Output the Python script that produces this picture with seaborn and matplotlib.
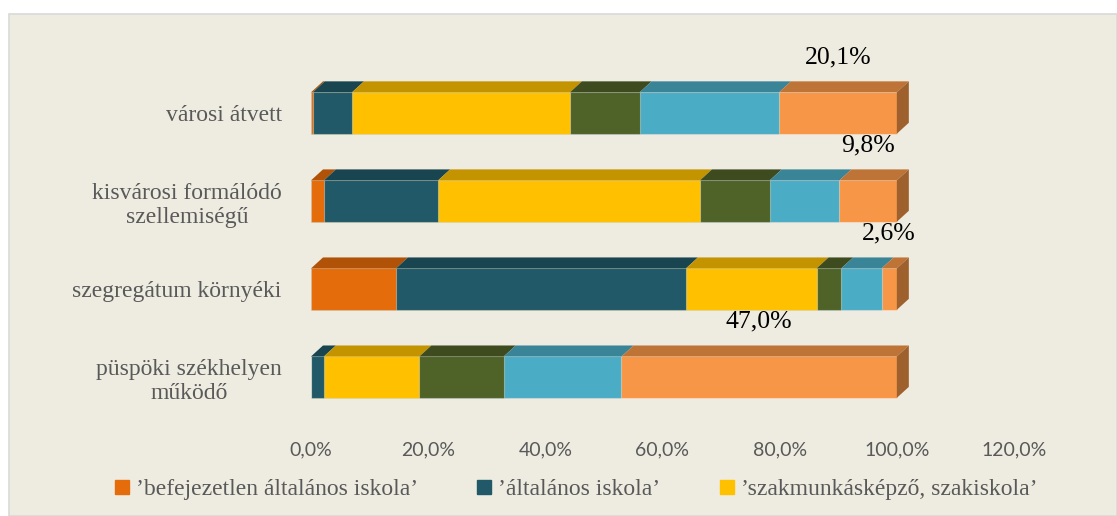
import numpy as np
import pandas as pd
import matplotlib
matplotlib.use("Agg")
import matplotlib.pyplot as plt
import matplotlib.colors as mcolors
from matplotlib.patches import Polygon, Rectangle
from matplotlib.lines import Line2D
from matplotlib.transforms import ScaledTranslation
import seaborn as sns

# categories (top to bottom)
categories = ["városi átvett", "kisvárosi formálódó\nszellemiségű",
              "szegregátum környéki", "püspöki székhelyen\nműködő"]

# series (share in %)
series_names = ["’befejezetlen általános iskola’", "’általános iskola’",
                "’szakmunkásképző, szakiskola’", "’érettségi’",
                "’főiskola’", "’egyetem’"]
befejezetlen = [0.3, 2.2, 14.5, 0.0]
altalanos = [6.7, 19.5, 49.5, 2.2]
szakmunkas = [37.2, 44.7, 22.3, 16.3]
erettsegi = [11.9, 11.9, 4.2, 14.4]
foiskola = [23.8, 11.9, 6.9, 20.1]
egyetem = [20.1, 9.8, 2.6, 47.0]
series_values = [befejezetlen, altalanos, szakmunkas, erettsegi, foiskola, egyetem]

colors = ["#E46C0A", "#215968", "#FFC000", "#4F6228", "#4BACC6", "#F79646"]
xticks = [0, 20, 40, 60, 80, 100, 120]
bg = "#EEECE1"

df = pd.DataFrame({"category": categories})
for name, vals in zip(series_names, series_values):
    df[name] = vals
cum = df[series_names].cumsum(axis=1)

fig = plt.figure(figsize=(11.17, 5.16), dpi=100, facecolor="white")
fig.patches.append(Rectangle((9 / 1117, 0), 1 - 9 / 1117, 1 - 14 / 516,
                             transform=fig.transFigure, facecolor=bg,
                             edgecolor="#D9D9D9", linewidth=1.2, zorder=-5))
ax = fig.add_axes([311 / 1117, 1 - 430 / 516, 703 / 1117, 383 / 516])
ax.set_facecolor("none")
ax.set_zorder(2)

bar_h = 0.47
# stacked bars: draw cumulative totals from the outermost series inwards
for i in range(len(series_names) - 1, -1, -1):
    sns.barplot(x=cum[series_names[i]], y=df["category"], orient="h",
                color=colors[i], width=bar_h, saturation=1,
                edgecolor=(1, 1, 1, 0.35), linewidth=0.8, ax=ax)

ax.set_xlim(0, 120)
ax.set_ylim(3.6, -0.75)

# pseudo-3D depth (pixels converted to data units)
dx = 12 * 120 / 703
dy = 11 * (3.6 + 0.75) / 383

def shade(c, f):
    r, g, b = mcolors.to_rgb(c)
    return (r * f, g * f, b * f)

for row in range(len(categories)):
    top = row - bar_h / 2
    bottom = row + bar_h / 2
    left = 0.0
    for i, name in enumerate(series_names):
        right = cum.loc[row, name]
        if right - left > 0:
            ax.add_patch(Polygon([(left, top), (right, top),
                                  (right + dx, top - dy), (left + dx, top - dy)],
                                 closed=True, facecolor=shade(colors[i], 0.77),
                                 edgecolor="none", zorder=3))
        left = right
    end = cum.loc[row, series_names[-1]]
    ax.add_patch(Polygon([(end, top), (end + dx, top - dy),
                          (end + dx, bottom - dy), (end, bottom)],
                         closed=True, facecolor=shade(colors[-1], 0.64),
                         edgecolor="none", zorder=3))
    # value label above the last segment
    last_left = cum.loc[row, series_names[-2]]
    ax.annotate(f"{egyetem[row]:.1f}%".replace(".", ","),
                xy=((last_left + end) / 2, top), xytext=(0, 25),
                textcoords="offset points", ha="center", va="center",
                fontsize=18.5, family="Liberation Serif", color="black")

ax.set_xticks(xticks)
ax.set_xticklabels([f"{t:.1f}%".replace(".", ",") for t in xticks],
                   family=["Lato", "DejaVu Sans"], fontsize=14, color="#595959")
shift = ScaledTranslation(-12 / 100, 0, fig.dpi_scale_trans)
for lab in ax.get_xticklabels():
    lab.set_transform(lab.get_transform() + shift)
ax.tick_params(axis="x", length=0, pad=8)
ax.tick_params(axis="y", length=0, pad=21)
ax.set_yticks(range(len(categories)))
ax.set_yticklabels(categories, family="Liberation Serif", fontsize=17,
                   color="#595959")
for lab in ax.get_yticklabels():
    lab.set_multialignment("center")
ax.set_xlabel("")
ax.set_ylabel("")
for s in ax.spines.values():
    s.set_visible(False)
ax.grid(False)

handles = [Line2D([], [], marker="s", linestyle="none", markersize=10,
                  markerfacecolor=c, markeredgecolor=c) for c in colors[:3]]
leg = fig.legend(handles, series_names[:3], loc="center", ncol=3,
                 bbox_to_anchor=(576 / 1117, 1 - 489 / 516), frameon=False,
                 prop={"family": "Liberation Serif", "size": 17},
                 handlelength=0.6, handletextpad=0.3, columnspacing=2.5)
for t in leg.get_texts():
    t.set_color("#595959")

fig.savefig("out.png", dpi=100, facecolor="white")
